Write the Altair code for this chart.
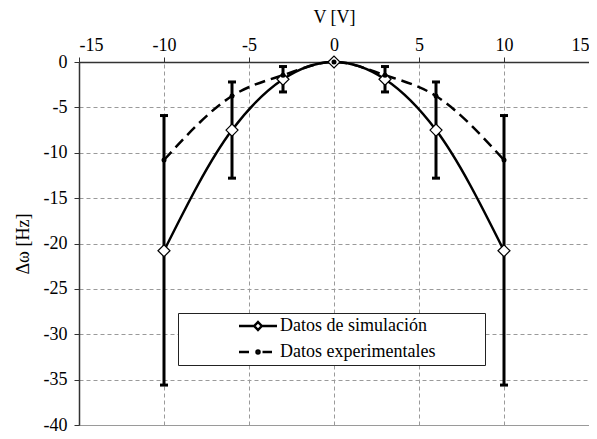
import altair as alt
import pandas as pd

FONT = "Liberation Serif"

# ---- data ----
volts = [-10, -6, -3, 0, 3, 6, 10]
sim_hz = [-20.8, -7.5, -1.9, 0.0, -1.9, -7.5, -20.8]
exp_hz = [-10.8, -3.75, -1.45, 0.0, -1.45, -3.75, -10.8]

err_volts = [-10, -6, -3, 3, 6, 10]
err_upper = [-5.9, -2.2, -0.5, -0.5, -2.2, -5.9]
err_lower = [-35.6, -12.8, -3.3, -3.3, -12.8, -35.6]

series = ["Datos de simulación", "Datos experimentales"]
x_ticks = [-15, -10, -5, 0, 5, 10, 15]
y_ticks = [-40, -35, -30, -25, -20, -15, -10, -5, 0]

# legend symbols (line + marker), unit = sqrt(symbolSize)/2
sym_paths = [
    "M-3.8,0L-0.75,0M0.75,0L3.8,0M0,-0.8L0.75,0L0,0.8L-0.75,0Z",
    "M-3.8,0L-1.8,0M0.9,0L2.8,0M-0.3,0A0.3,0.3,0,1,0,0.3,0A0.3,0.3,0,1,0,-0.3,0Z",
]

df = pd.DataFrame({"V": volts, "sim": sim_hz, "exp": exp_hz})
err = pd.DataFrame({"V": err_volts, "hi": err_upper, "lo": err_lower})
leg = pd.DataFrame({"serie": series})

xs = alt.Scale(domain=[-15, 15], nice=False, zero=False)
ys = alt.Scale(domain=[-40, 0], nice=False, zero=False)

xax = alt.Axis(orient="top", values=x_ticks, title="V [V]", grid=True,
               labelExpr="toString(datum.value)",
               labelPadding=3, titlePadding=10)
yax = alt.Axis(values=y_ticks, title="Δω [Hz]", grid=True,
               labelExpr="toString(datum.value)",
               labelPadding=7, titlePadding=11)

X = alt.X("V:Q", scale=xs, axis=xax)

err_rule = alt.Chart(err).mark_rule(color="black", strokeWidth=3).encode(
    x=X, y=alt.Y("lo:Q", scale=ys, axis=yax), y2="hi:Q")
cap_lo = alt.Chart(err).mark_tick(color="black", orient="horizontal", size=8,
                                  thickness=3, opacity=1).encode(
    x="V:Q", y="lo:Q")
cap_hi = alt.Chart(err).mark_tick(color="black", orient="horizontal", size=8,
                                  thickness=3, opacity=1).encode(
    x="V:Q", y="hi:Q")

base = alt.Chart(df)
sim_line = base.mark_line(color="black", strokeWidth=2.5,
                          interpolate="monotone").encode(x="V:Q", y="sim:Q")
exp_line = base.mark_line(color="black", strokeWidth=2.5, strokeDash=[11, 6],
                          interpolate="monotone").encode(x="V:Q", y="exp:Q")
exp_pts = base.mark_circle(color="black", size=25, opacity=1).encode(
    x="V:Q", y="exp:Q")
sim_pts = base.mark_point(shape="diamond", size=144, filled=True, fill="white",
                          stroke="black", strokeWidth=1.2, opacity=1).encode(
    x="V:Q", y="sim:Q")

legend_layer = alt.Chart(leg).transform_filter("false").mark_point(
    filled=False, color="black", strokeWidth=2.5, opacity=1
).encode(
    shape=alt.Shape(
        "serie:N",
        scale=alt.Scale(domain=series, range=sym_paths),
        legend=alt.Legend(
            orient="none", legendX=99, legendY=251, direction="vertical",
            title="\u00a0", titleOrient="right", titlePadding=46,
            fillColor="white", strokeColor="#222", padding=4,
            rowPadding=8, symbolSize=100, symbolStrokeWidth=2.5,
            symbolStrokeColor="black", symbolFillColor="transparent",
            symbolOffset=67, labelOffset=13,
            labelFont=FONT, labelFontSize=18, labelColor="black",
            titleFont=FONT, titleFontSize=18,
        ),
    )
)

chart = alt.layer(
    err_rule, cap_lo, cap_hi, sim_line, exp_line, sim_pts, exp_pts, legend_layer
).properties(
    width=510, height=363,
    background="white",
    autosize=alt.AutoSizeParams(type="none"),
    padding={"left": 71, "top": 54, "right": 0, "bottom": 14},
).configure_view(
    stroke="#9a9a9a", strokeWidth=1
).configure_axis(
    labelFont=FONT, labelFontSize=18, labelColor="black",
    titleFont=FONT, titleFontSize=18, titleFontWeight="normal", titleColor="black",
    domainColor="#333333", domainWidth=1.5,
    tickColor="#333333", tickSize=5, tickWidth=1,
    gridColor="#9a9a9a", gridDash=[4, 3], gridWidth=1,
)

chart.save("out.html", embed_options={"renderer": "svg", "actions": False})
